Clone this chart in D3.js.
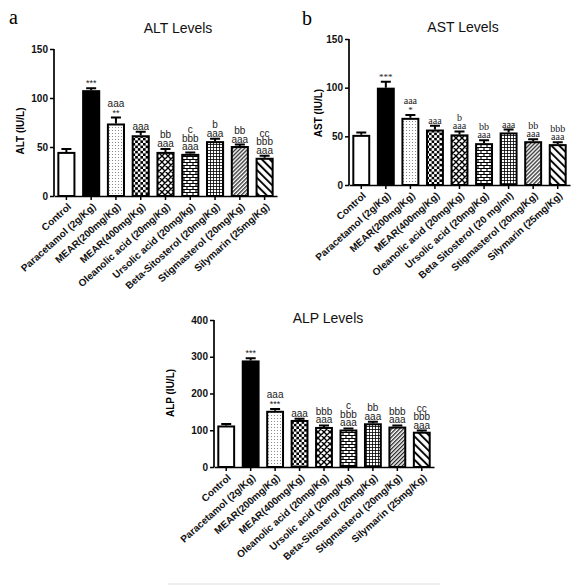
<!DOCTYPE html>
<html>
<head>
<meta charset="utf-8">
<script src="https://cdn.jsdelivr.net/npm/d3@7"></script>
<style>
  html, body { margin: 0; padding: 0; background: #fff; }
  svg { display: block; }
</style>
</head>
<body>
<script>
// ---------------- DATA ----------------
const categoriesALT = ["Control", "Paracetamol (2g/Kg)", "MEAR(200mg/Kg)", "MEAR(400mg/Kg)",
  "Oleanolic acid (20mg/Kg)", "Ursolic acid (20mg/kg)", "Beta-Sitosterol (20mg/Kg)",
  "Stigmasterol (20mg/Kg)", "Silymarin (25mg/Kg)"];
const categoriesAST = ["Control", "Paracetamol (2g/Kg)", "MEAR(200mg/Kg)", "MEAR(400mg/Kg)",
  "Oleanolic acid (20mg/Kg)", "Ursolic acid (20mg/Kg)", "Beta Sitosterol (20 mg/ml)",
  "Stigmasterol (20mg/Kg)", "Silymarin (25mg/Kg)"];
const categoriesALP = ["Control", "Paracetamol (2g/Kg)", "MEAR(200mg/Kg)", "MEAR(400mg/Kg)",
  "Oleanolic acid (20mg/Kg)", "Ursolic acid (20mg/Kg)", "Beta-Sitosterol (20mg/Kg)",
  "Stigmasterol (20mg/Kg)", "Silymarin (25mg/Kg)"];

const altMeans  = [45, 108, 74, 62, 45, 43, 56, 51, 39];
const altErrors = [3, 2, 6, 3.5, 3, 1.5, 2.5, 1.5, 2];
const astMeans  = [51.5, 100, 69, 57, 52, 43, 54, 45, 42];
const astErrors = [2.5, 6, 3, 4, 3, 3, 3, 2, 2];
const alpMeans  = [113, 290, 153, 128, 109, 102, 119, 110, 96];
const alpErrors = [4, 6, 5, 3, 4, 3, 4, 3, 3];

const altTicks = [0, 50, 100, 150];
const astTicks = [0, 50, 100, 150];
const alpTicks = [0, 100, 200, 300, 400];

// significance labels, listed top line first
const altSig = [[], ["***"], ["aaa", "**"], ["aaa"], ["bb", "aaa"], ["c", "bbb", "aaa"],
  ["b", "aaa"], ["bb", "aaa"], ["cc", "bbb", "aaa"]];
const astSig = [[], ["***"], ["aaa", "*"], ["aaa"], ["b", "aaa"], ["bb", "aaa"],
  ["aaa"], ["bb", "aaa"], ["bbb", "aaa"]];
const alpSig = [[], ["***"], ["aaa", "***"], ["aaa"], ["bbb", "aaa"], ["c", "bbb", "aaa"],
  ["bb", "aaa"], ["bbb", "aaa"], ["cc", "bbb", "aaa"]];

// ---------------- DRAWING ----------------
const W = 580, H = 586;
const svg = d3.select("body").append("svg").attr("width", W).attr("height", H);
const SANS = "'Liberation Sans', Arial, sans-serif";
const SERIF = "'Liberation Serif', 'Times New Roman', serif";

// patterns
const defs = svg.append("defs");
function pat(id, w, h, transform) {
  const p = defs.append("pattern").attr("id", id).attr("patternUnits", "userSpaceOnUse")
    .attr("width", w).attr("height", h);
  if (transform) p.attr("patternTransform", transform);
  p.append("rect").attr("width", w).attr("height", h).attr("fill", "#fff");
  return p;
}
{ const p = pat("dots", 3, 3);
  p.append("circle").attr("cx", 1.5).attr("cy", 1.5).attr("r", 0.55).attr("fill", "#777"); }
{ const p = pat("checker", 5.2, 5.2);
  p.append("rect").attr("width", 2.6).attr("height", 2.6).attr("fill", "#000");
  p.append("rect").attr("x", 2.6).attr("y", 2.6).attr("width", 2.6).attr("height", 2.6).attr("fill", "#000"); }
{ const p = pat("cross", 6, 6);
  p.append("path").attr("d", "M0,0L6,6M6,0L0,6M-1,5L1,7M5,-1L7,1M-1,1L1,-1M5,7L7,5")
    .attr("stroke", "#000").attr("stroke-width", 1.4); }
{ const p = pat("brick", 6, 6);
  p.append("path").attr("d", "M0,0.5H6M0,3.5H6M1,0.5V3.5M4,3.5V6.5")
    .attr("stroke", "#000").attr("stroke-width", 1.1).attr("fill", "none"); }
{ const p = pat("grid", 3, 3);
  p.append("path").attr("d", "M0,0.5H3M0.5,0V3")
    .attr("stroke", "#000").attr("stroke-width", 0.8).attr("fill", "none"); }
{ const p = pat("fineDiag", 2.8, 2.8, "rotate(45)");
  p.append("line").attr("x1", 0.7).attr("y1", 0).attr("x2", 0.7).attr("y2", 2.8)
    .attr("stroke", "#000").attr("stroke-width", 1.1); }
{ const p = pat("wideDiag", 5.5, 5.5, "rotate(-45)");
  p.append("line").attr("x1", 1).attr("y1", 0).attr("x2", 1).attr("y2", 5.5)
    .attr("stroke", "#000").attr("stroke-width", 1.9); }

const fills = ["#fff", "#000", "url(#dots)", "url(#checker)", "url(#cross)",
  "url(#brick)", "url(#grid)", "url(#fineDiag)", "url(#wideDiag)"];

function drawPanel(cfg) {
  const x = d3.scaleBand().domain(cfg.categories).range([cfg.x0, cfg.x1])
    .paddingInner(0.27).paddingOuter(0.135);
  const y = d3.scaleLinear().domain([0, cfg.ticks[cfg.ticks.length - 1]])
    .range([cfg.yBottom, cfg.yTop]);
  const g = svg.append("g");

  g.selectAll("rect.bar").data(cfg.means).join("rect").attr("class", "bar")
    .attr("x", (d, i) => x(cfg.categories[i]) + 1)
    .attr("width", x.bandwidth() - 2)
    .attr("y", d => y(d) + 1)
    .attr("height", d => y(0) - y(d) - 1)
    .attr("fill", (d, i) => fills[i])
    .attr("stroke", "#000").attr("stroke-width", 2);

  const cx = i => x(cfg.categories[i]) + x.bandwidth() / 2;
  g.selectAll("path.err").data(cfg.means).join("path").attr("class", "err")
    .attr("d", (d, i) => {
      const yt = y(d + cfg.errors[i]);
      return `M${cx(i)},${y(d)}V${yt}M${cx(i) - 5},${yt}H${cx(i) + 5}`;
    })
    .attr("stroke", "#000").attr("stroke-width", 2).attr("fill", "none");

  cfg.sig.forEach((lines, i) => {
    const top = y(cfg.means[i] + cfg.errors[i]);
    const n = lines.length;
    lines.forEach((s, j) => {
      g.append("text")
        .attr("x", cx(i)).attr("y", top - 2 - (n - 1 - j) * 8.5)
        .attr("text-anchor", "middle")
        .attr("font-family", cfg.sigFont)
        .attr("font-size", s.startsWith("*") ? 9 : 10)
        .attr("fill", "#222")
        .text(s);
    });
  });

  const yAxis = g.append("g").attr("transform", `translate(${cfg.x0},0)`)
    .call(d3.axisLeft(y).tickValues(cfg.ticks).tickSize(4).tickSizeOuter(0).tickPadding(2));
  const xAxis = g.append("g").attr("transform", `translate(0,${cfg.yBottom})`)
    .call(d3.axisBottom(x).tickSize(4).tickSizeOuter(0));
  [yAxis, xAxis].forEach(a => {
    a.select(".domain").attr("stroke", "#000").attr("stroke-width", 1.7);
    a.selectAll(".tick line").attr("stroke", "#000").attr("stroke-width", 1.5);
    a.selectAll("text").attr("font-family", SANS).attr("font-weight", "bold")
      .attr("font-size", 10).attr("fill", "#111");
  });
  yAxis.select(".domain").attr("d", `M0,${cfg.yBottom}V${cfg.yTop}`);
  xAxis.selectAll(".tick text")
    .attr("text-anchor", "end")
    .attr("x", 0).attr("y", 0).attr("dy", "0.35em")
    .attr("font-size", 10)
    .attr("transform", "translate(3,9) rotate(-42)");

  g.append("text")
    .attr("transform", `translate(${cfg.yTitleX},${cfg.yTitleY}) rotate(-90)`)
    .attr("text-anchor", "middle")
    .attr("font-family", SANS).attr("font-weight", "bold").attr("font-size", 10)
    .text(cfg.yTitle);

  g.append("text").attr("x", cfg.titleX).attr("y", cfg.titleY)
    .attr("text-anchor", "middle").attr("font-family", SANS).attr("font-size", 14)
    .attr("fill", "#111").text(cfg.title);

  if (cfg.letter) {
    g.append("text").attr("x", cfg.letterX).attr("y", cfg.letterY)
      .attr("font-family", SERIF).attr("font-size", 20).text(cfg.letter);
  }
}

drawPanel({
  categories: categoriesALT, means: altMeans, errors: altErrors, sig: altSig, ticks: altTicks,
  x0: 54, x1: 277, yBottom: 196, yTop: 49, sigFont: SANS,
  yTitle: "ALT (IU/L)", yTitleX: 24, yTitleY: 131,
  title: "ALT Levels", titleX: 178, titleY: 33,
  letter: "a", letterX: 9, letterY: 24
});
drawPanel({
  categories: categoriesAST, means: astMeans, errors: astErrors, sig: astSig, ticks: astTicks,
  x0: 349, x1: 570, yBottom: 185, yTop: 39, sigFont: SERIF,
  yTitle: "AST (IU/L)", yTitleX: 322, yTitleY: 113,
  title: "AST Levels", titleX: 463, titleY: 32,
  letter: "b", letterX: 302, letterY: 25
});
drawPanel({
  categories: categoriesALP, means: alpMeans, errors: alpErrors, sig: alpSig, ticks: alpTicks,
  x0: 214, x1: 434, yBottom: 467, yTop: 320, sigFont: SANS,
  yTitle: "ALP (IU/L)", yTitleX: 174, yTitleY: 393,
  title: "ALP Levels", titleX: 328, titleY: 323
});

svg.append("line").attr("x1", 168).attr("x2", 440).attr("y1", 584).attr("y2", 584)
  .attr("stroke", "#ddd").attr("stroke-width", 1);
</script>
</body>
</html>
